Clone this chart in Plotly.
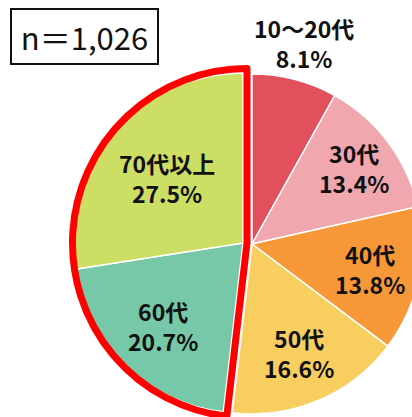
import math
import plotly.graph_objects as go

# Age-group shares of respondents (percent)
groups = ["10～20代", "30代", "40代", "50代", "60代", "70代以上"]
shares = [8.1, 13.4, 13.8, 16.6, 20.7, 27.5]
colors = ["#E2505E", "#F0A8AE", "#F79838", "#F9CE60", "#76C8A8", "#CDDE64"]
highlight = [False, False, False, False, True, True]
sample_size = "1,026"

# label distance from the pie centre, as a fraction of the radius
label_radius = [1.22, 0.75, 0.71, 0.70, 0.68, 0.59]

W, H = 430, 420
FONT = "Noto Sans CJK JP"
CLEAR = "rgba(0,0,0,0)"
R = 170
BASE_C = (252, 244)      # centre of the main pie, px
GROUP_C = (243, 243)     # centre of the exploded older groups, px


def domain(cx, cy, r):
    """Pie domain (paper units) for a pie centred at pixel (cx, cy) with radius r."""
    return dict(x=[(cx - r) / W, (cx + r) / W],
                y=[1 - (cy + r) / H, 1 - (cy - r) / H])


common = dict(values=shares, sort=False, direction="clockwise", rotation=0,
              textinfo="none", hoverinfo="skip", showlegend=False)

fig = go.Figure()

# base pie: younger groups
fig.add_trace(go.Pie(
    **common,
    domain=domain(*BASE_C, R),
    marker=dict(colors=[CLEAR if h else c for c, h in zip(colors, highlight)],
                line=dict(color="white", width=[0 if h else 1.5 for h in highlight])),
))

# older groups, exploded together to the left
fig.add_trace(go.Pie(
    **common,
    domain=domain(*GROUP_C, R),
    marker=dict(colors=[c if h else CLEAR for c, h in zip(colors, highlight)],
                line=dict(color="white", width=[1.5 if h else 0 for h in highlight])),
))

# red frame around the exploded group
rest = sum(v for v, h in zip(shares, highlight) if not h)
older = sum(v for v, h in zip(shares, highlight) if h)
fig.add_trace(go.Pie(
    values=[rest, older], sort=False, direction="clockwise", rotation=0,
    textinfo="none", hoverinfo="skip", showlegend=False,
    domain=domain(GROUP_C[0] + 4, GROUP_C[1], R + 4.5),
    marker=dict(colors=[CLEAR, CLEAR], line=dict(color="#FF0000", width=[0, 7])),
))

# slice labels placed along each slice's bisector
total = sum(shares)
cum = 0.0
for g, v, h, rf in zip(groups, shares, highlight, label_radius):
    mid = math.radians((cum + v / 2) / total * 360)
    cum += v
    cx, cy = GROUP_C if h else BASE_C
    px = cx + rf * R * math.sin(mid)
    py = cy - rf * R * math.cos(mid)
    fig.add_annotation(
        text=f"{g}<br>{v:.1f}%", xref="paper", yref="paper",
        x=px / W, y=1 - py / H, xanchor="center", yanchor="middle",
        showarrow=False, align="center",
        font=dict(family=FONT, size=23, color="#111111", weight="bold"),
    )

fig.add_annotation(
    text=f"n＝{sample_size}", xref="paper", yref="paper",
    x=10 / W, y=1 - 8 / H, xanchor="left", yanchor="top", showarrow=False,
    width=137, align="center",
    font=dict(family=FONT, size=31, color="#111111"),
    bordercolor="#111111", borderwidth=2, borderpad=4, bgcolor="white",
)

fig.update_layout(width=W, height=H, margin=dict(l=0, r=0, t=0, b=0),
                  paper_bgcolor="white", plot_bgcolor="white")

fig.write_html("out.html", post_script=(
    "document.body.style.margin='0';"
    "document.body.style.overflow='hidden';"
    "document.documentElement.style.overflow='hidden';"))
